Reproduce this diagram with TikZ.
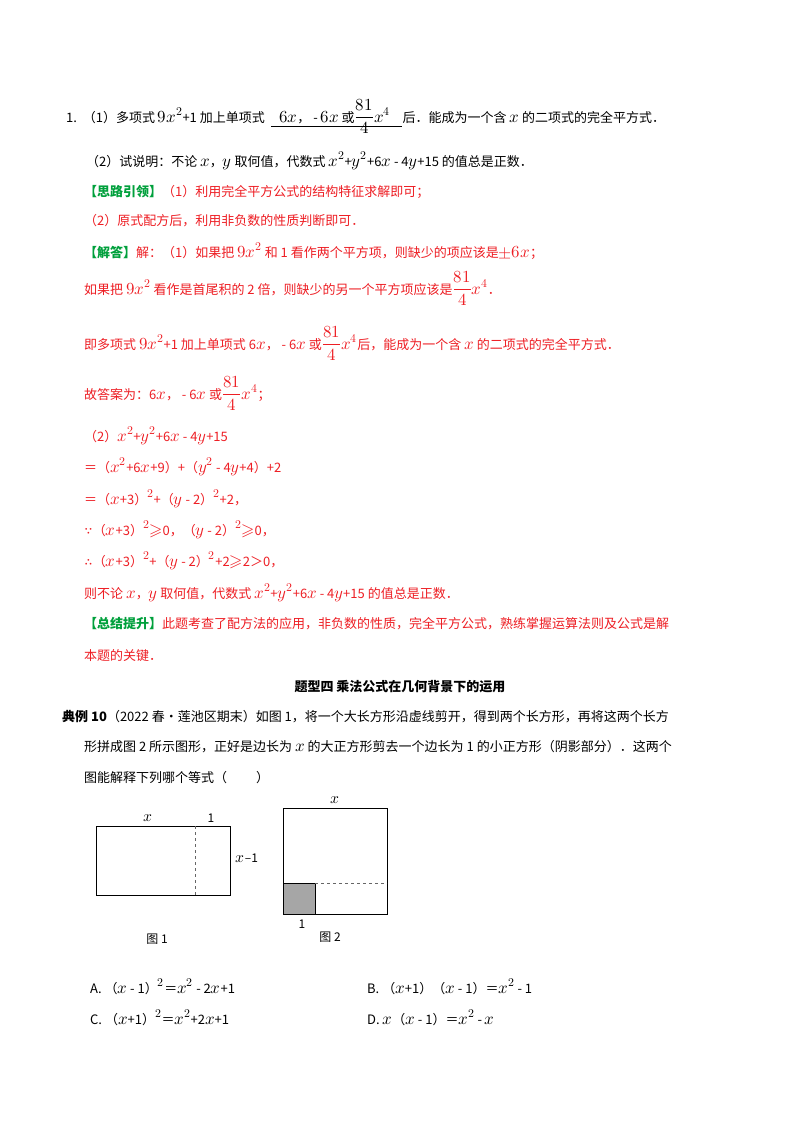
\documentclass[tikz,border=0pt]{standalone}
\usepackage{amsmath}
\usepackage{unicode-math}
\setmainfont{Noto Sans CJK SC}
\setmathfont{Latin Modern Math}[Scale=1.3]
\definecolor{rd}{RGB}{238,30,36}
\definecolor{gn}{RGB}{0,160,60}
\tikzset{ln/.style={anchor=base west,inner sep=0pt,font=\fontsize{13}{15}\selectfont},
 rl/.style={ln,text=rd}}
\newcommand{\hd}[1]{\textcolor{gn}{\bfseries #1}}
\begin{document}
\begin{tikzpicture}[x=1pt,y=-1pt]
\useasboundingbox[fill=white] (0,0) rectangle (800,1132);
\node[ln] (l1) at (66,122) {1.\ \ （1）多项式 $9x^2$+1 加上单项式 };
\node[ln] (l1b) at ([xshift=6pt]l1.base east) {\kern8pt$6x$，\ - $6x$ 或$\dfrac{81}{4}x^4$\kern12pt\mbox{}};
\node[ln] (l1c) at (l1b.base east) {后．能成为一个含 $x$ 的二项式的完全平方式．};
\draw ([yshift=-4pt]l1b.base west) -- ([yshift=-4pt]l1b.base east);
\node[ln] (l2) at (86,166) {（2）试说明：不论 $x$，$y$ 取何值，代数式 $x^2$+$y^2$+6$x$ - 4$y$+15 的值总是正数．};
\node[rl] (l3) at (84,196) {\hd{【思路引领】}（1）利用完全平方公式的结构特征求解即可；};
\node[rl] (l4) at (84,225) {（2）原式配方后，利用非负数的性质判断即可．};
\node[rl] (l5) at (84,257) {\hd{【解答】}解：（1）如果把 $9x^2$ 和 1 看作两个平方项，则缺少的项应该是$\pm6x$；};
\node[rl] (l6) at (84,294) {如果把 $9x^2$ 看作是首尾积的 2 倍，则缺少的另一个平方项应该是$\dfrac{81}{4}x^4$．};
\node[rl] (l7) at (84,349) {即多项式 $9x^2$+1 加上单项式 6$x$，\ - 6$x$ 或$\dfrac{81}{4}x^4$后，能成为一个含 $x$ 的二项式的完全平方式．};
\node[rl] (l8) at (84,399) {故答案为：6$x$，\ - 6$x$ 或$\dfrac{81}{4}x^4$；};
\node[rl] (l9) at (84,441) {（2）$x^2$+$y^2$+6$x$ - 4$y$+15};
\node[rl] (l10) at (84,472) {＝（$x^2$+6$x$+9）+（$y^2$ - 4$y$+4）+2};
\node[rl] (l11) at (84,504) {＝（$x$+3）$^2$+（$y$ - 2）$^2$+2，};
\node[rl] (l12) at (84,535) {$\because$（$x$+3）$^2$$\geqslant$0，（$y$ - 2）$^2$$\geqslant$0，};
\node[rl] (l13) at (84,566) {$\therefore$（$x$+3）$^2$+（$y$ - 2）$^2$+2$\geqslant$2＞0，};
\node[rl] (l14) at (84,598) {则不论 $x$，$y$ 取何值，代数式 $x^2$+$y^2$+6$x$ - 4$y$+15 的值总是正数．};
\node[rl] (l15) at (84,628) {\hd{【总结提升】}此题考查了配方法的应用，非负数的性质，完全平方公式，熟练掌握运算法则及公式是解};
\node[rl] (l16) at (84,660) {本题的关键．};
\node[ln,anchor=base,font=\fontsize{13}{15}\selectfont\bfseries] (t) at (400,691) {题型四\ 乘法公式在几何背景下的运用};
\node[ln] (e1) at (62,721) {\textbf{典例 10}（2022 春•莲池区期末）如图 1，将一个大长方形沿虚线剪开，得到两个长方形，再将这两个长方};
\node[ln] (e2) at (84,751) {形拼成图 2 所示图形，正好是边长为 $x$ 的大正方形剪去一个边长为 1 的小正方形（阴影部分）．这两个};
\node[ln] (e3) at (84,782) {图能解释下列哪个等式（\qquad\ ）};
% figure 1
\draw[line width=0.9pt] (96,826) rectangle (230,895);
\coordinate (d1) at (195,826); \coordinate (d2) at (195,895);
\draw[dashed,gray!80!black] (d1) -- (d2);
\node[font=\fontsize{12}{14}\selectfont] (fx) at (148,818) {$x$};
\node[font=\fontsize{12}{14}\selectfont] (f1) at (211,818) {1};
\node[font=\fontsize{12}{14}\selectfont] (fx1) at (247,858) {$x$–1};
\node[font=\fontsize{12}{14}\selectfont] (g1) at (157,939) {图 1};
% figure 2
\draw[line width=0.9pt] (283,808) rectangle (387,914);
\draw[fill=gray!70,line width=0.8pt] (283,883) rectangle (315,914);
\coordinate (e) at (387,883);
\draw[dashed,gray!80!black] (315,883) -- (e);
\node[font=\fontsize{12}{14}\selectfont] (gx) at (335,800) {$x$};
\node[font=\fontsize{12}{14}\selectfont] (g21) at (302,924) {1};
\node[font=\fontsize{12}{14}\selectfont] (g2) at (330,937) {图 2};
% options
\node[ln] (oa) at (90,993) {A.\ （$x$ - 1）$^2$＝$x^2$ - 2$x$+1};
\node[ln] (ob) at (367,993) {B.\ （$x$+1）（$x$ - 1）＝$x^2$ - 1};
\node[ln] (oc) at (90,1024) {C.\ （$x$+1）$^2$＝$x^2$+2$x$+1};
\node[ln] (od) at (367,1024) {D.\ $x$（$x$ - 1）＝$x^2$ - $x$};
\end{tikzpicture}
\end{document}
